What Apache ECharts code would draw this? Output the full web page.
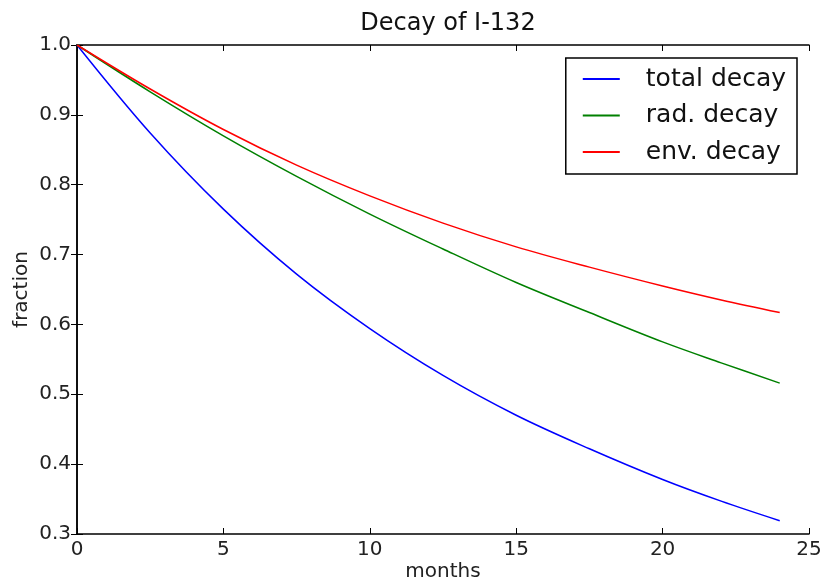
<!DOCTYPE html>
<html lang="en">
<head>
    <meta charset="UTF-8">
    <title>Decay of I-132</title>
    <script src="https://cdn.jsdelivr.net/npm/echarts@6/dist/echarts.min.js"></script>
</head>
<body style="margin:0;">
<div id="main" style="width: 824px;height:586px;"></div>
<script type="text/javascript">

// values
var months = [0, 2.5, 5, 7.5, 10, 12.5, 15, 17.5, 20, 22, 24];
var totalDecay = [1.0, 0.874, 0.765, 0.672, 0.594, 0.527, 0.470, 0.422, 0.378, 0.347, 0.319];
var radDecay = [1.0, 0.933, 0.870, 0.812, 0.758, 0.708, 0.660, 0.617, 0.575, 0.545, 0.516];
var envDecay = [1.0, 0.937, 0.879, 0.828, 0.784, 0.745, 0.711, 0.682, 0.655, 0.635, 0.617];

function pairs(ys) {
    var out = [];
    for (var i = 0; i < months.length; i++) {
        out.push([months[i], ys[i]]);
    }
    return out;
}

var font = 'DejaVu Sans';
var axisColor = '#000';

var myChart = echarts.init(document.getElementById('main'));

function baseAxis(show) {
    return {
        type: 'value',
        axisLine: {show: true, lineStyle: {color: axisColor, width: 1.5}},
        axisTick: {show: true, inside: true, length: 6, lineStyle: {color: axisColor, width: 1}},
        splitLine: {show: false},
        axisLabel: {show: show, color: '#222', fontFamily: font, fontSize: 20}
    };
}

var xBottom = baseAxis(true);
xBottom.min = 0; xBottom.max = 25; xBottom.interval = 5;
xBottom.name = 'months';
xBottom.nameLocation = 'middle';
xBottom.nameGap = 28;
xBottom.nameMoveOverlap = false;
xBottom.nameTextStyle = {color: '#222', fontFamily: font, fontSize: 20};
xBottom.axisLabel.margin = 6;

var xTop = baseAxis(false);
xTop.min = 0; xTop.max = 25; xTop.interval = 5;
xTop.position = 'top';

var yLeft = baseAxis(true);
yLeft.min = 0.3; yLeft.max = 1.0; yLeft.interval = 0.1;
yLeft.name = 'fraction';
yLeft.nameLocation = 'middle';
yLeft.nameGap = 45;
yLeft.nameMoveOverlap = false;
yLeft.nameTextStyle = {color: '#222', fontFamily: font, fontSize: 20};
yLeft.axisLabel.margin = 6;
yLeft.axisLabel.formatter = function (v) { return v.toFixed(1); };

var yRight = baseAxis(false);
yRight.min = 0.3; yRight.max = 1.0; yRight.interval = 0.1;
yRight.position = 'right';

function lineSeries(name, ys, color) {
    return {
        name: name,
        type: 'line',
        data: pairs(ys),
        smooth: 0.35,
        symbol: 'none',
        xAxisIndex: 0,
        yAxisIndex: 0,
        lineStyle: {color: color, width: 1.5},
        itemStyle: {color: color}
    };
}

myChart.setOption({
    animation: false,
    title: {
        text: 'Decay of I-132',
        left: 443,
        top: 7,
        textAlign: 'center',
        textStyle: {color: '#111', fontFamily: font, fontSize: 24, fontWeight: 'normal'}
    },
    legend: {
        orient: 'vertical',
        right: 27,
        top: 58,
        padding: [7, 11, 8, 17],
        itemGap: 8.5,
        itemWidth: 37,
        itemHeight: 2,
        icon: 'rect',
        borderColor: '#000',
        borderWidth: 1.5,
        borderRadius: 0,
        textStyle: {color: '#111', fontFamily: font, fontSize: 25, lineHeight: 28, padding: [0, 0, 0, 21]},
        data: ['total decay', 'rad. decay', 'env. decay']
    },
    grid: {left: 77, top: 45, right: 15, bottom: 52, outerBoundsMode: 'none'},
    xAxis: [xBottom, xTop],
    yAxis: [yLeft, yRight],
    series: [
        lineSeries('total decay', totalDecay, '#0000ff'),
        lineSeries('rad. decay', radDecay, '#008000'),
        lineSeries('env. decay', envDecay, '#ff0000')
    ]
});

</script>
</body>
</html>
